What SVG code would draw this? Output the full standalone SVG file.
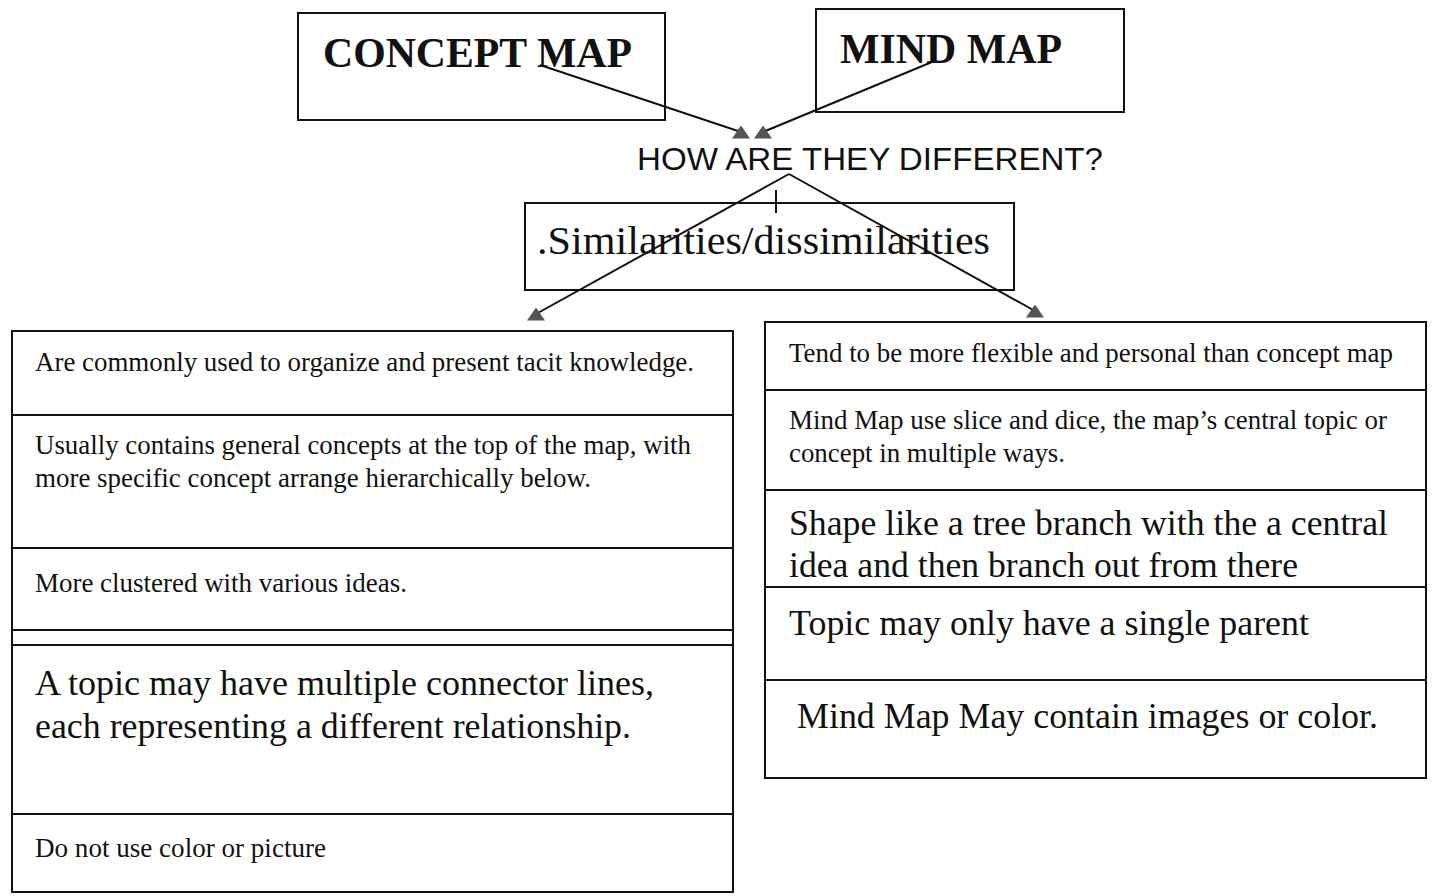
<svg xmlns="http://www.w3.org/2000/svg" width="1434" height="896" viewBox="0 0 1434 896">
<style>
.box{fill:none;stroke:#111;stroke-width:2}
.sep{stroke:#111;stroke-width:2}
.con{stroke:#111;stroke-width:2;fill:none}
.t{font-family:"Liberation Serif","Times New Roman",serif;fill:#111}
.s{font-size:27px}
.l{font-size:36px}
.title{font-size:43px;font-weight:bold}
.q{font-family:"Liberation Sans",Arial,sans-serif;font-size:32px;fill:#111}
</style>
<defs>
<marker id="tri" viewBox="0 0 18 13" refX="9" refY="6.5" markerWidth="18" markerHeight="13" markerUnits="userSpaceOnUse" orient="0">
<path d="M0,13 L9,0 L18,13 Z" fill="#555"/>
</marker>
</defs>
<rect width="1434" height="896" fill="#fff"/>

<g id="concept-map">
<rect class="box" x="298" y="13" width="367" height="107"/>
<text class="t title" x="323" y="67" textLength="309" lengthAdjust="spacingAndGlyphs">CONCEPT MAP</text>
</g>
<g id="mind-map">
<rect class="box" x="816" y="9" width="308" height="103"/>
<text class="t title" x="840" y="63" textLength="222" lengthAdjust="spacingAndGlyphs">MIND MAP</text>
</g>
<g id="question">
<text class="q" x="637" y="170" textLength="466" lengthAdjust="spacingAndGlyphs">HOW ARE THEY DIFFERENT?</text>
</g>
<g id="similarities">
<rect class="box" x="525" y="203" width="489" height="87"/>
<text class="t" style="font-size:40px" x="537" y="254" textLength="453" lengthAdjust="spacingAndGlyphs">.Similarities/dissimilarities</text>
</g>

<g id="concept-column">
<rect class="box" x="12" y="331" width="721" height="561"/>
<line class="sep" x1="12" y1="415" x2="733" y2="415"/>
<line class="sep" x1="12" y1="548" x2="733" y2="548"/>
<line class="sep" x1="12" y1="630" x2="733" y2="630"/>
<line class="sep" x1="12" y1="645" x2="733" y2="645"/>
<line class="sep" x1="12" y1="814" x2="733" y2="814"/>
<text class="t s" x="35" y="371" textLength="659" lengthAdjust="spacingAndGlyphs">Are commonly used to organize and present tacit knowledge.</text>
<text class="t s" x="35" y="454" textLength="656" lengthAdjust="spacingAndGlyphs">Usually contains general concepts at the top of the map, with</text>
<text class="t s" x="35" y="487" textLength="556" lengthAdjust="spacingAndGlyphs">more specific concept arrange hierarchically below.</text>
<text class="t s" x="35" y="592" textLength="372" lengthAdjust="spacingAndGlyphs">More clustered with various ideas.</text>
<text class="t l" x="35" y="695" textLength="619" lengthAdjust="spacingAndGlyphs">A topic may have multiple connector lines,</text>
<text class="t l" x="35" y="738" textLength="596" lengthAdjust="spacingAndGlyphs">each representing a different relationship.</text>
<text class="t s" x="35" y="857" textLength="291" lengthAdjust="spacingAndGlyphs">Do not use color or picture</text>
</g>

<g id="mind-column">
<rect class="box" x="765" y="322" width="661" height="456"/>
<line class="sep" x1="765" y1="390" x2="1426" y2="390"/>
<line class="sep" x1="765" y1="490" x2="1426" y2="490"/>
<line class="sep" x1="765" y1="587" x2="1426" y2="587"/>
<line class="sep" x1="765" y1="680" x2="1426" y2="680"/>
<text class="t s" x="789" y="362" textLength="604" lengthAdjust="spacingAndGlyphs">Tend to be more flexible and personal than concept map</text>
<text class="t s" x="789" y="429" textLength="598" lengthAdjust="spacingAndGlyphs">Mind Map use slice and dice, the map’s central topic or</text>
<text class="t s" x="789" y="462" textLength="276" lengthAdjust="spacingAndGlyphs">concept in multiple ways.</text>
<text class="t l" x="789" y="535" textLength="599" lengthAdjust="spacingAndGlyphs">Shape like a tree branch with the a central</text>
<text class="t l" x="789" y="577" textLength="509" lengthAdjust="spacingAndGlyphs">idea and then branch out from there</text>
<text class="t l" x="789" y="635" textLength="520" lengthAdjust="spacingAndGlyphs">Topic may only have a single parent</text>
<text class="t l" x="797" y="728" textLength="581" lengthAdjust="spacingAndGlyphs">Mind Map May contain images or color.</text>
</g>

<g id="connectors">
<line class="con" x1="540" y1="65" x2="741" y2="132" marker-end="url(#tri)"/>
<line class="con" x1="932" y1="62" x2="763" y2="132" marker-end="url(#tri)"/>
<line class="con" x1="789" y1="174" x2="536" y2="314" marker-end="url(#tri)"/>
<line class="con" x1="789" y1="174" x2="1035" y2="311" marker-end="url(#tri)"/>
<line class="con" x1="776" y1="190" x2="776" y2="213"/>
</g>
</svg>
